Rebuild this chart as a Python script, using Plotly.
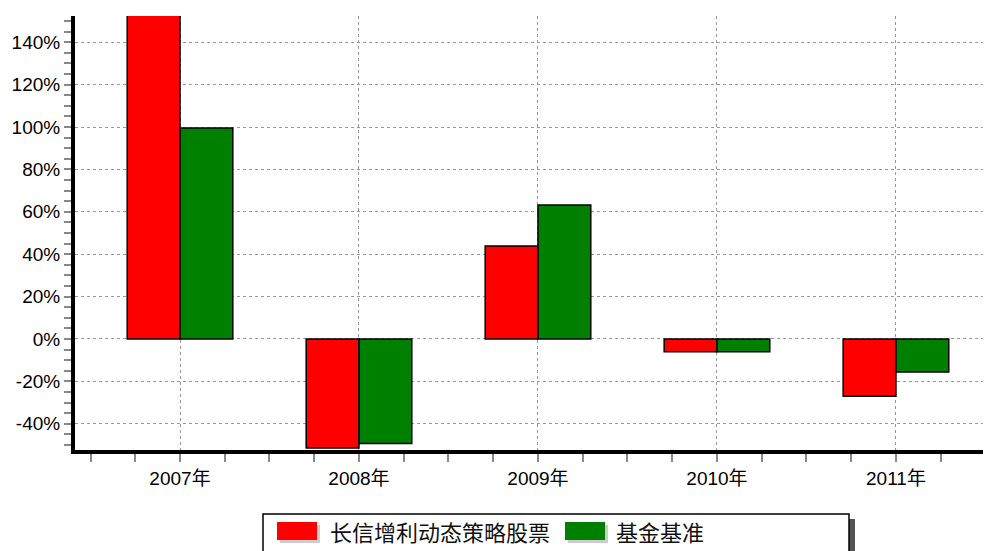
import plotly.graph_objects as go

categories = ["2007年", "2008年", "2009年", "2010年", "2011年"]
fund_name = "长信增利动态策略股票"
bench_name = "基金基准"
fund_values = [160.0, -51.5, 43.9, -6.0, -27.0]
bench_values = [99.6, -49.3, 63.2, -6.0, -15.6]
ytick_values = [-40, -20, 0, 20, 40, 60, 80, 100, 120, 140]
ytick_labels = ["-40%", "-20%", "0%", "20%", "40%", "60%", "80%", "100%", "120%", "140%"]

OFF = 8  # page body margin
W, H = 991 - OFF, 551 - OFF
SL, ST, SR, SB = 75, 16, 991, 450
ML, MT = SL - OFF, ST - OFF
MR = W - (SR - OFF)
MB = H - (SB - OFF)
PW, PH = SR - SL, SB - ST

def px(x):
    return (x - SL) / PW

def py(y):
    return (SB - y) / PH

xpos = list(range(len(categories)))
font_fam = "Liberation Sans, Arial, Noto Sans CJK SC, sans-serif"

fig = go.Figure()
fig.add_trace(go.Bar(x=xpos, y=fund_values, name=fund_name, marker=dict(color="#ff0000", line=dict(color="black", width=1.5)), showlegend=False))
fig.add_trace(go.Bar(x=xpos, y=bench_values, name=bench_name, marker=dict(color="#008000", line=dict(color="black", width=1.5)), showlegend=False))

fig.update_layout(
    width=W, height=H,
    margin=dict(l=ML, r=MR, t=MT, b=MB),
    paper_bgcolor="white", plot_bgcolor="white",
    barmode="group", bargap=0.41, bargroupgap=0,
    font=dict(family=font_fam, size=19, color="black"),
    xaxis=dict(
        range=[-0.5866, 4.531], tickvals=xpos, ticktext=categories,
        showgrid=True, gridcolor="#999999", griddash="dot", gridwidth=1,
        showline=True, linecolor="black", linewidth=4,
        ticks="outside", ticklen=8, tickwidth=2, tickcolor="#888888",
        minor=dict(dtick=0.25, tick0=0, ticks="outside", ticklen=8, tickwidth=2, tickcolor="#888888", showgrid=False),
        zeroline=False, tickfont=dict(size=19),
    ),
    yaxis=dict(
        range=[-52.4, 152.4], tickvals=ytick_values, ticktext=ytick_labels,
        showgrid=True, gridcolor="#999999", griddash="dot", gridwidth=1,
        showline=True, linecolor="black", linewidth=4,
        ticks="outside", ticklen=7, tickwidth=2, tickcolor="#888888",
        minor=dict(dtick=5, tick0=0, ticks="outside", ticklen=7, tickwidth=2, tickcolor="#888888", showgrid=False),
        zeroline=False, tickfont=dict(size=19),
    ),
)

shapes = []
shapes.append(dict(type="rect", xref="paper", yref="paper", x0=px(268), x1=px(855), y0=py(560), y1=py(519), fillcolor="#555555", line=dict(width=0), layer="above"))
shapes.append(dict(type="rect", xref="paper", yref="paper", x0=px(263), x1=px(849), y0=py(562), y1=py(514), fillcolor="white", line=dict(color="black", width=1.5), layer="above"))
for x0, color in [(277, "#ff0000"), (565, "#008000")]:
    shapes.append(dict(type="rect", xref="paper", yref="paper", x0=px(x0 + 3), x1=px(x0 + 43), y0=py(543), y1=py(525), fillcolor="#cccccc", line=dict(width=0), layer="above"))
    shapes.append(dict(type="rect", xref="paper", yref="paper", x0=px(x0), x1=px(x0 + 40), y0=py(540), y1=py(522), fillcolor=color, line=dict(width=0), layer="above"))
fig.update_layout(shapes=shapes)

leg_font = dict(family="Noto Sans CJK SC, sans-serif", size=22, color="#111111")
fig.add_annotation(xref="paper", yref="paper", x=px(328), y=py(531), text=fund_name, showarrow=False, xanchor="left", yanchor="middle", font=leg_font)
fig.add_annotation(xref="paper", yref="paper", x=px(614), y=py(531), text=bench_name, showarrow=False, xanchor="left", yanchor="middle", font=leg_font)

fig.write_html("out.html")
